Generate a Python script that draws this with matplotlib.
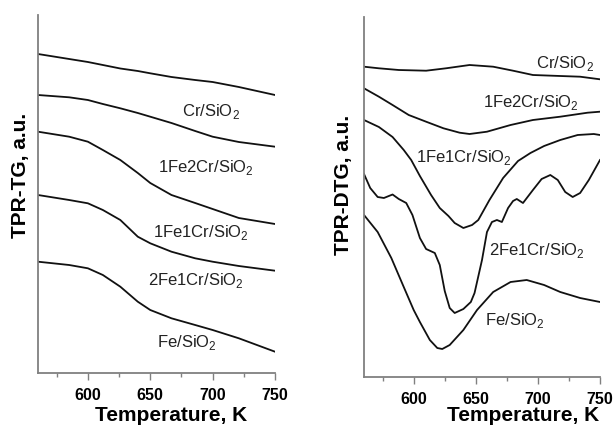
import matplotlib
matplotlib.use("Agg")
import matplotlib.pyplot as plt
from matplotlib.ticker import MultipleLocator

plt.rcParams["font.family"] = ["Liberation Sans", "DejaVu Sans"]
plt.rcParams["mathtext.fontset"] = "custom"
plt.rcParams["mathtext.rm"] = "Liberation Sans"

# TPR-TG curves (left panel), a.u.
tg_T = [560, 585, 600, 612, 626, 640, 650, 667, 686, 700, 721, 750]
tg_cr = [316, 311, 308, 305, 301.5, 299, 296.7, 293, 290, 288, 283, 275]
tg_1fe2cr = [275, 272.7, 270, 266, 261.7, 257, 253.3, 247, 239, 233.3, 228, 223.3]
tg_1fe1cr = [238.3, 233.3, 228.3, 220, 210, 197, 187, 175, 167, 161, 152, 146]
tg_2fe1cr = [175, 170, 166.7, 160, 150, 133.3, 126.7, 118.3, 111.7, 108.3, 104, 99.3]
tg_fe = [108.3, 105, 101.7, 95, 83.3, 68.3, 60, 51.7, 45, 40, 31.7, 18.3]

# TPR-DTG curves (right panel), a.u.
dtg_cr_T = [560, 572, 588, 610, 626, 645, 664, 680, 696, 718, 734, 750]
dtg_cr = [310.3, 308.7, 307, 306.3, 308.7, 312, 310.3, 306.3, 302, 301, 300.3, 297.7]

dtg_1fe2cr_T = [560, 572, 583, 596, 610, 624, 637, 645, 659, 678, 696, 718, 740, 750]
dtg_1fe2cr = [288.7, 280.3, 272, 262, 255.3, 248.7, 244.3, 243, 245.3, 252, 257, 260.3, 264.3, 265.3]

dtg_1fe1cr_T = [560, 572, 583, 592, 598, 605, 614, 621, 628, 633, 640, 647, 652, 661,
                672, 684, 694, 705, 718, 732, 745, 750]
dtg_1fe1cr = [257, 250, 240, 227, 217, 201, 182, 169, 161, 154, 149, 152, 157, 177,
              199, 216, 224, 231, 237, 242, 243, 242]

dtg_2fe1cr_T = [560, 565, 571, 576, 583, 588, 594, 599, 605, 610, 617, 621, 625, 629,
                633, 640, 646, 649, 655, 659, 663, 667, 671, 676, 680, 683, 688, 696,
                703, 710, 716, 722, 728, 734, 741, 750]
dtg_2fe1cr = [203, 189, 180, 179, 182.5, 178, 174, 162, 139, 128, 124, 112, 86, 69,
              64, 68, 75, 84, 117, 145, 155, 157, 155, 169, 176, 178, 174, 187,
              198, 202, 197, 185, 180, 184, 197, 217]

dtg_fe_T = [560, 571, 582, 592, 600, 605, 613, 619, 623, 629, 640, 651, 664, 678,
            691, 705, 718, 734, 750]
dtg_fe = [162, 145, 119, 90, 67, 55, 37, 29, 28, 32, 47, 67, 85, 95,
          97, 92, 85, 79, 75]

names = ["Cr", "1Fe2Cr", "1Fe1Cr", "2Fe1Cr", "Fe"]

# label anchor points (T, a.u.)
tg_label_T = [698.7, 694.7, 691, 686.3, 679.5]
tg_label_y = [254, 198, 133, 85, 23]
dtg_label_T = [721.7, 694.7, 640.6, 699.5, 681.8]
dtg_label_y = [309, 270, 215, 122, 52]

W, H = 614, 425
fig = plt.figure(figsize=(W / 100, H / 100), dpi=100)
ax1 = fig.add_axes([38 / W, 52 / H, 237 / W, 358 / H])
ax2 = fig.add_axes([364 / W, 48 / H, 236 / W, 360 / H])

line_kw = dict(color="#111111", lw=1.3, solid_joinstyle="round")
ax1.plot(tg_T, tg_cr, **line_kw)
ax1.plot(tg_T, tg_1fe2cr, **line_kw)
ax1.plot(tg_T, tg_1fe1cr, **line_kw)
ax1.plot(tg_T, tg_2fe1cr, **line_kw)
ax1.plot(tg_T, tg_fe, **line_kw)

ax2.plot(dtg_cr_T, dtg_cr, **line_kw)
ax2.plot(dtg_1fe2cr_T, dtg_1fe2cr, **line_kw)
ax2.plot(dtg_1fe1cr_T, dtg_1fe1cr, **line_kw)
ax2.plot(dtg_2fe1cr_T, dtg_2fe1cr, **line_kw)
ax2.plot(dtg_fe_T, dtg_fe, **line_kw)

ax1.set_ylim(-3, 355)
ax2.set_ylim(0, 360)

for ax in (ax1, ax2):
    ax.set_xlim(560, 750)
    ax.xaxis.set_major_locator(MultipleLocator(50))
    ax.xaxis.set_minor_locator(MultipleLocator(25))
    ax.set_yticks([])
    for s in ("top", "right"):
        ax.spines[s].set_visible(False)
    for s in ("left", "bottom"):
        ax.spines[s].set_color("#808080")
        ax.spines[s].set_linewidth(1.3)
    ax.tick_params(axis="x", which="major", direction="out", length=5, width=1,
                   color="#808080", pad=6, labelsize=11.5)
    ax.tick_params(axis="x", which="minor", direction="out", length=3, width=1,
                   color="#808080")
    for lab in ax.get_xticklabels():
        lab.set_fontweight("bold")

for ax, xs, ys in ((ax1, tg_label_T, tg_label_y), (ax2, dtg_label_T, dtg_label_y)):
    for n, x, y in zip(names, xs, ys):
        ax.text(x, y, n + r"/SiO$_\mathregular{2}$", ha="center", va="baseline",
                fontsize=12, color="#222222")

fig.text(171.5 / W, 1 - 406 / H, "Temperature, K", ha="center", va="top",
         fontsize=15, fontweight="bold")
fig.text(523 / W, 1 - 406 / H, "Temperature, K", ha="center", va="top",
         fontsize=15, fontweight="bold")
fig.text(20.5 / W, 1 - 175 / H, "TPR-TG, a.u.", ha="center", va="center",
         rotation=90, fontsize=15, fontweight="bold")
fig.text(343 / W, 1 - 185 / H, "TPR-DTG, a.u.", ha="center", va="center",
         rotation=90, fontsize=15, fontweight="bold")

fig.savefig("out.png", dpi=100)
